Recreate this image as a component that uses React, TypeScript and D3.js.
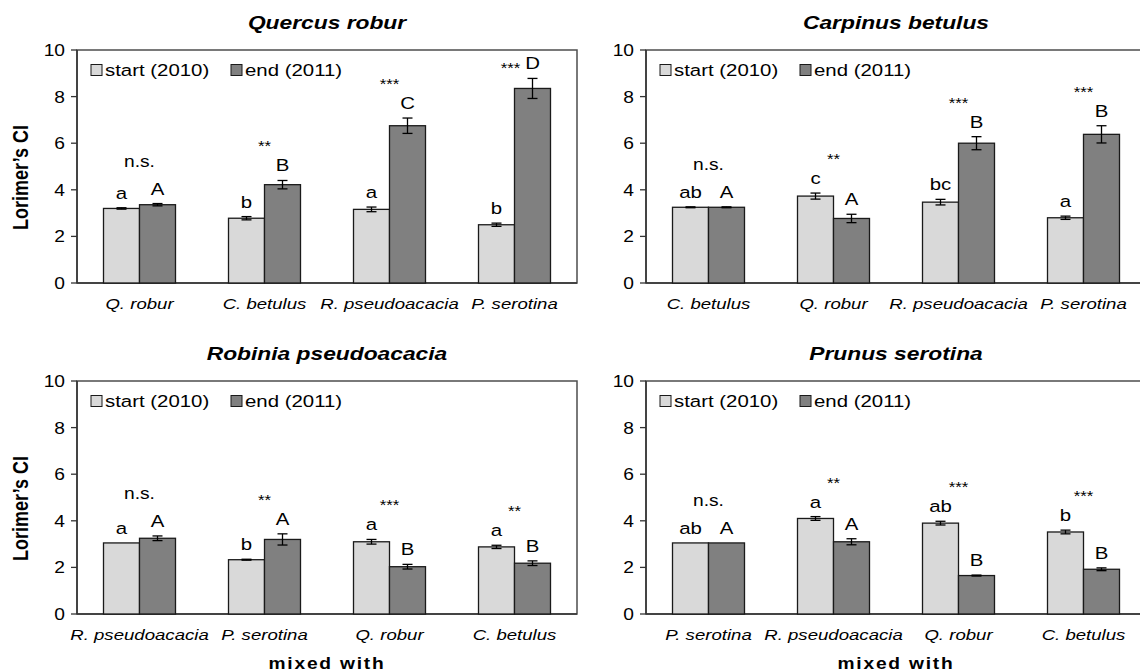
import React, { useRef, useEffect } from "react";
import * as d3 from "d3";

// One entry per panel (focal species), four "mixed with" neighbours each
const panelTitles = ["Quercus robur", "Carpinus betulus", "Robinia pseudoacacia", "Prunus serotina"];

const categories = [
  ["Q. robur", "C. betulus", "R. pseudoacacia", "P. serotina"],
  ["C. betulus", "Q. robur", "R. pseudoacacia", "P. serotina"],
  ["R. pseudoacacia", "P. serotina", "Q. robur", "C. betulus"],
  ["P. serotina", "R. pseudoacacia", "Q. robur", "C. betulus"],
];

const startMeans = [
  [3.2, 2.78, 3.16, 2.5],
  [3.25, 3.73, 3.47, 2.8],
  [3.05, 2.33, 3.1, 2.88],
  [3.05, 4.1, 3.9, 3.52],
];
const startErrors = [
  [0.03, 0.07, 0.1, 0.07],
  [0.02, 0.13, 0.12, 0.07],
  [0, 0.02, 0.1, 0.07],
  [0, 0.08, 0.08, 0.08],
];
const endMeans = [
  [3.36, 4.22, 6.75, 8.35],
  [3.25, 2.77, 6.0, 6.38],
  [3.25, 3.2, 2.03, 2.18],
  [3.05, 3.1, 1.65, 1.92],
];
const endErrors = [
  [0.05, 0.18, 0.33, 0.43],
  [0.02, 0.18, 0.28, 0.37],
  [0.1, 0.24, 0.1, 0.1],
  [0, 0.13, 0.02, 0.06],
];

const startLetters = [
  ["a", "b", "a", "b"],
  ["ab", "c", "bc", "a"],
  ["a", "b", "a", "a"],
  ["ab", "a", "ab", "b"],
];
const endLetters = [
  ["A", "B", "C", "D"],
  ["A", "A", "B", "B"],
  ["A", "A", "B", "B"],
  ["A", "A", "B", "B"],
];
const significance = [
  ["n.s.", "**", "***", "***"],
  ["n.s.", "**", "***", "***"],
  ["n.s.", "**", "***", "**"],
  ["n.s.", "**", "***", "***"],
];

const seriesNames = ["start (2010)", "end (2011)"];
const seriesColors = ["#d9d9d9", "#808080"];
const yTicks = [0, 2, 4, 6, 8, 10];

const WIDTH = 1140;
const HEIGHT = 672;
const FONT = "Arial, 'Liberation Sans', sans-serif";
const SX = 1.2; // the original text is a bit wide

export default function App() {
  const svgRef = useRef<SVGSVGElement>(null);

  useEffect(() => {
    if (!svgRef.current) return;
    const svg = d3.select(svgRef.current);
    svg.selectAll("*").remove();

    const plotW = 500;
    const plotH = 233;
    const origins = [
      [77, 50],
      [646, 50],
      [77, 381],
      [646, 381],
    ];

    const yScale = d3.scaleLinear().domain([0, 10]).range([plotH, 0]);

    const addText = (
      g: d3.Selection<SVGGElement, unknown, null, undefined>,
      x: number,
      y: number,
      text: string,
      size: number,
      anchor = "middle",
      weight = "normal",
      style = "normal"
    ) =>
      g.append("text")
        .attr("transform", `translate(${x},${y}) scale(${SX},1)`)
        .attr("text-anchor", anchor)
        .style("font-family", FONT)
        .style("font-size", `${size}px`)
        .style("font-weight", weight)
        .style("font-style", style)
        .style("fill", "#000")
        .text(text);

    panelTitles.forEach((title, p) => {
      const [ox, oy] = origins[p];
      const g = svg.append("g").attr("transform", `translate(${ox},${oy})`);

      const xScale = d3.scaleBand<string>()
        .domain(categories[p])
        .range([0, plotW])
        .paddingInner(0.424)
        .paddingOuter(0.212);

      const sScale = d3.scaleBand<string>()
        .domain(["start", "end"])
        .range([0, xScale.bandwidth()]);

      // Frame
      g.append("rect")
        .attr("width", plotW)
        .attr("height", plotH)
        .attr("fill", "none")
        .attr("stroke", "#4d4d4d")
        .attr("stroke-width", 1.5);

      // Title
      addText(g, plotW / 2, -21, title, 19, "middle", "bold", "italic");

      // Y axis
      yTicks.forEach((t) => {
        g.append("line")
          .attr("x1", -6)
          .attr("x2", 0)
          .attr("y1", yScale(t))
          .attr("y2", yScale(t))
          .attr("stroke", "#333")
          .attr("stroke-width", 1.3);
        addText(g, -12, yScale(t) + 6, String(t), 16, "end");
      });
      g.append("line")
        .attr("x1", 0).attr("x2", 0)
        .attr("y1", 0).attr("y2", plotH)
        .attr("stroke", "#333").attr("stroke-width", 1.5);
      g.append("line")
        .attr("x1", 0).attr("x2", plotW)
        .attr("y1", plotH).attr("y2", plotH)
        .attr("stroke", "#333").attr("stroke-width", 1.5);

      if (p % 2 === 0) {
        g.append("text")
          .attr("transform", `translate(${-49},${plotH / 2 + 11}) rotate(-90) scale(1,${SX})`)
          .attr("text-anchor", "middle")
          .style("font-family", FONT)
          .style("font-size", "18px")
          .style("font-weight", "bold")
          .text("Lorimer\u2019s CI");
      }

      // Bars, error bars and letters
      categories[p].forEach((cat, i) => {
        const groupX = xScale(cat) ?? 0;
        const bars = [
          { key: "start", mean: startMeans[p][i], err: startErrors[p][i], letter: startLetters[p][i], color: seriesColors[0] },
          { key: "end", mean: endMeans[p][i], err: endErrors[p][i], letter: endLetters[p][i], color: seriesColors[1] },
        ];
        const letterBase: number[] = [];
        bars.forEach((b) => {
          const bx = groupX + (sScale(b.key) ?? 0);
          const bw = sScale.bandwidth();
          g.append("rect")
            .attr("x", bx)
            .attr("y", yScale(b.mean))
            .attr("width", bw)
            .attr("height", plotH - yScale(b.mean))
            .attr("fill", b.color)
            .attr("stroke", "#1a1a1a")
            .attr("stroke-width", 1.3);
          const cx = bx + bw / 2;
          if (b.err > 0) {
            const y1 = yScale(b.mean + b.err);
            const y2 = yScale(b.mean - b.err);
            g.append("line").attr("x1", cx).attr("x2", cx).attr("y1", y1).attr("y2", y2)
              .attr("stroke", "#000").attr("stroke-width", 1.3);
            [y1, y2].forEach((yy) => {
              g.append("line").attr("x1", cx - 5).attr("x2", cx + 5).attr("y1", yy).attr("y2", yy)
                .attr("stroke", "#000").attr("stroke-width", 1.3);
            });
          }
          const lb = yScale(b.mean + b.err) - 9;
          letterBase.push(lb);
          addText(g, cx, lb, b.letter, 17);
        });

        const sig = significance[p][i];
        const minLb = Math.min(...letterBase);
        const gc = groupX + xScale.bandwidth() / 2;
        let sy = minLb - (sig === "n.s." ? 28 : 20);
        let sx = gc;
        if (sy < 12) {
          // no room above: set it beside the end-bar letter
          sx = groupX + (sScale("end") ?? 0) + sScale.bandwidth() / 2 - 22;
          sy = minLb + 4;
        }
        addText(g, sx, sy, sig, sig === "n.s." ? 16 : 14);

        addText(g, gc, plotH + 26, cat, 15.5, "middle", "normal", "italic");
      });

      // Legend
      const legend = g.append("g").attr("transform", "translate(14,20)");
      seriesNames.forEach((name, k) => {
        const lx = k * 140;
        legend.append("rect")
          .attr("x", lx)
          .attr("y", -5.5)
          .attr("width", 11)
          .attr("height", 11)
          .attr("fill", seriesColors[k])
          .attr("stroke", "#1a1a1a")
          .attr("stroke-width", 1);
        addText(legend, lx + 14, 6, name, 17, "start");
      });

      if (p >= 2) {
        g.append("text")
          .attr("transform", `translate(${plotW / 2},${plotH + 55}) scale(${SX},1)`)
          .attr("text-anchor", "middle")
          .style("font-family", FONT)
          .style("font-size", "16px")
          .style("font-weight", "bold")
          .style("letter-spacing", "1.5px")
          .text("mixed with");
      }
    });
  }, []);

  return (
    <div style={{ position: "absolute", left: 0, top: 0 }}>
      <svg ref={svgRef} width={WIDTH} height={HEIGHT} style={{ display: "block", background: "#fff" }} />
    </div>
  );
}
